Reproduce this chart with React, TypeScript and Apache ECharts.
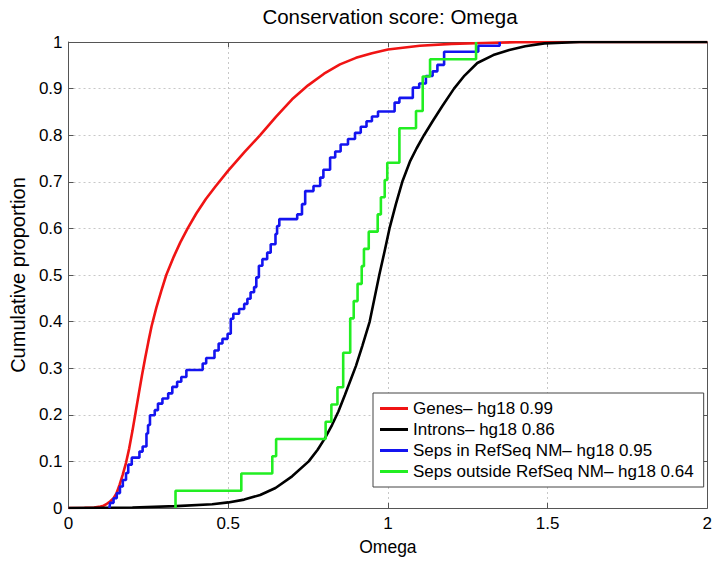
import React, { useEffect, useRef } from "react";
import * as echarts from "echarts";

const titleText = "Conservation score: Omega";
const xName = "Omega";
const yName = "Cumulative proportion";

const seriesNames = [
  "Genes– hg18 0.99",
  "Introns– hg18 0.86",
  "Seps in RefSeq NM– hg18 0.95",
  "Seps outside RefSeq NM– hg18 0.64",
];
const seriesColors = ["#f01414", "#000000", "#1414f0", "#22ee22"];

// Genes (smooth CDF) [omega, proportion]
const genesCurve: number[][] = [
  [0, 0], [0.05, 0.0005], [0.08, 0.001], [0.1, 0.003], [0.11, 0.005], [0.12, 0.009],
  [0.13, 0.014], [0.141, 0.021], [0.15, 0.031], [0.16, 0.05], [0.17, 0.072],
  [0.18, 0.097], [0.19, 0.128], [0.2, 0.165], [0.21, 0.205], [0.22, 0.245],
  [0.23, 0.285], [0.24, 0.322], [0.25, 0.357], [0.26, 0.39], [0.275, 0.43],
  [0.29, 0.465], [0.306, 0.5], [0.33, 0.54], [0.35, 0.57], [0.373, 0.6],
  [0.4, 0.632], [0.43, 0.663], [0.46, 0.69], [0.5, 0.724], [0.55, 0.763],
  [0.6, 0.8], [0.65, 0.84], [0.7, 0.877], [0.75, 0.907], [0.8, 0.932],
  [0.85, 0.952], [0.9, 0.966], [0.95, 0.976], [1.0, 0.984], [1.1, 0.992],
  [1.2, 0.996], [1.3, 0.998], [1.4, 0.9995], [1.55, 1], [2, 1],
];

// Introns (smooth CDF)
const intronsCurve: number[][] = [
  [0, 0], [0.2, 0.001], [0.337, 0.004], [0.45, 0.008], [0.5, 0.012], [0.55, 0.018],
  [0.6, 0.028], [0.648, 0.043], [0.7, 0.068], [0.752, 0.1], [0.78, 0.125],
  [0.803, 0.15], [0.825, 0.178], [0.845, 0.207], [0.865, 0.242], [0.885, 0.278],
  [0.9, 0.305], [0.92, 0.348], [0.943, 0.4], [0.958, 0.45], [0.973, 0.5],
  [0.99, 0.552], [1.005, 0.6], [1.025, 0.652], [1.045, 0.7], [1.07, 0.745],
  [1.09, 0.772], [1.113, 0.8], [1.14, 0.83], [1.17, 0.862], [1.207, 0.9],
  [1.24, 0.928], [1.28, 0.955], [1.33, 0.972], [1.38, 0.983], [1.43, 0.991],
  [1.49, 0.997], [1.6, 1], [2, 1],
];

// Seps in RefSeq NM (empirical CDF steps)
const sepsInSteps: number[][] = [
  [0.128, 0], [0.13, 0.011], [0.141, 0.021], [0.151, 0.032], [0.161, 0.046],
  [0.17, 0.06], [0.18, 0.075], [0.187, 0.093], [0.198, 0.108], [0.222, 0.121],
  [0.232, 0.132], [0.244, 0.16], [0.249, 0.178], [0.255, 0.199], [0.27, 0.21],
  [0.28, 0.224], [0.294, 0.235], [0.312, 0.246], [0.325, 0.26], [0.34, 0.271],
  [0.353, 0.281], [0.369, 0.296], [0.42, 0.31], [0.431, 0.322], [0.457, 0.338],
  [0.47, 0.353], [0.482, 0.363], [0.498, 0.374], [0.508, 0.406], [0.516, 0.417],
  [0.534, 0.427], [0.55, 0.438], [0.56, 0.449], [0.57, 0.463], [0.581, 0.474],
  [0.588, 0.495], [0.596, 0.52], [0.607, 0.534], [0.622, 0.548], [0.633, 0.566],
  [0.648, 0.588], [0.653, 0.605], [0.66, 0.62], [0.716, 0.63], [0.731, 0.652],
  [0.741, 0.68], [0.767, 0.691], [0.788, 0.709], [0.798, 0.726], [0.819, 0.752],
  [0.835, 0.765], [0.852, 0.78], [0.875, 0.792], [0.897, 0.805], [0.915, 0.818],
  [0.933, 0.83], [0.95, 0.84], [0.969, 0.851], [1.021, 0.87], [1.036, 0.88],
  [1.078, 0.902], [1.098, 0.911], [1.119, 0.927], [1.14, 0.937], [1.155, 0.951],
  [1.176, 0.979], [1.283, 0.992], [1.35, 1],
];

// Seps outside RefSeq NM (empirical CDF steps)
const sepsOutSteps: number[][] = [
  [0.335, 0], [0.335, 0.037], [0.541, 0.074], [0.638, 0.111], [0.65, 0.148],
  [0.805, 0.185], [0.823, 0.222], [0.842, 0.259], [0.86, 0.333], [0.882, 0.407],
  [0.893, 0.444], [0.905, 0.481], [0.918, 0.519], [0.925, 0.556], [0.94, 0.593],
  [0.968, 0.63], [0.978, 0.667], [0.99, 0.704], [0.998, 0.741], [1.036, 0.815],
  [1.088, 0.852], [1.109, 0.926], [1.132, 0.963], [1.276, 1],
];

const xTicks = { min: 0, max: 2, interval: 0.5 };
const yTicks = { min: 0, max: 1, interval: 0.1 };

const FONT = "'Liberation Sans', Arial, Helvetica, sans-serif";

export default function App() {
  const ref = useRef<HTMLDivElement>(null);
  useEffect(() => {
    const chart = echarts.init(ref.current!, null, { renderer: "svg" });
    const axisCommon = {
      type: "value" as const,
      axisLine: { show: true, onZero: false, lineStyle: { color: "#555", width: 1 } },
      axisTick: { show: true, inside: true, length: 5, lineStyle: { color: "#555" } },
    };
    const grid = { show: true, lineStyle: { type: [2, 3], color: "#c8c8c8", width: 1 } };
    const data = [genesCurve, intronsCurve, sepsInSteps, sepsOutSteps];
    chart.setOption({
      animation: false,
      backgroundColor: "#fff",
      textStyle: { fontFamily: FONT },
      title: {
        text: titleText,
        left: 390,
        top: 6,
        textAlign: "center",
        padding: 0,
        textStyle: { fontSize: 20.5, fontWeight: "normal", color: "#000", fontFamily: FONT },
      },
      grid: { left: 68, right: 3, top: 42, bottom: 51 },
      legend: {
        orient: "vertical",
        left: 373,
        top: 393,
        data: seriesNames,
        icon: "rect",
        itemWidth: 28,
        itemHeight: 3,
        itemGap: 4,
        padding: [7, 10, 7, 7],
        borderColor: "#444",
        borderWidth: 1,
        backgroundColor: "#fff",
        textStyle: { fontSize: 17, color: "#000", fontFamily: FONT },
        selectedMode: false,
      },
      xAxis: [
        {
          ...axisCommon,
          ...xTicks,
          position: "bottom",
          name: xName,
          nameLocation: "middle",
          nameGap: 30,
          nameTextStyle: { fontSize: 17.5, color: "#000", fontFamily: FONT },
          axisLabel: { fontSize: 17, color: "#000", margin: 7, fontFamily: FONT },
          splitLine: grid,
        },
        {
          ...axisCommon,
          ...xTicks,
          position: "top",
          axisLabel: { show: false },
          splitLine: { show: false },
        },
      ],
      yAxis: [
        {
          ...axisCommon,
          ...yTicks,
          position: "left",
          name: yName,
          nameLocation: "middle",
          nameGap: 36,
          nameTextStyle: { fontSize: 20, color: "#000", fontFamily: FONT },
          axisLabel: { fontSize: 17, color: "#000", margin: 6, fontFamily: FONT },
          splitLine: grid,
        },
        {
          ...axisCommon,
          ...yTicks,
          position: "right",
          axisLabel: { show: false },
          splitLine: { show: false },
        },
      ],
      series: seriesNames.map((name, i) => ({
        type: "line",
        name,
        data: data[i],
        xAxisIndex: 0,
        yAxisIndex: 0,
        symbol: "none",
        showSymbol: false,
        step: i >= 2 ? "end" : undefined,
        lineStyle: { color: seriesColors[i], width: 2.6 },
        itemStyle: { color: seriesColors[i] },
        z: 2 + i,
      })),
    });
    return () => chart.dispose();
  }, []);
  return (
    <div
      ref={ref}
      style={{ position: "fixed", left: 0, top: 0, width: 715, height: 561, background: "#fff" }}
    />
  );
}
